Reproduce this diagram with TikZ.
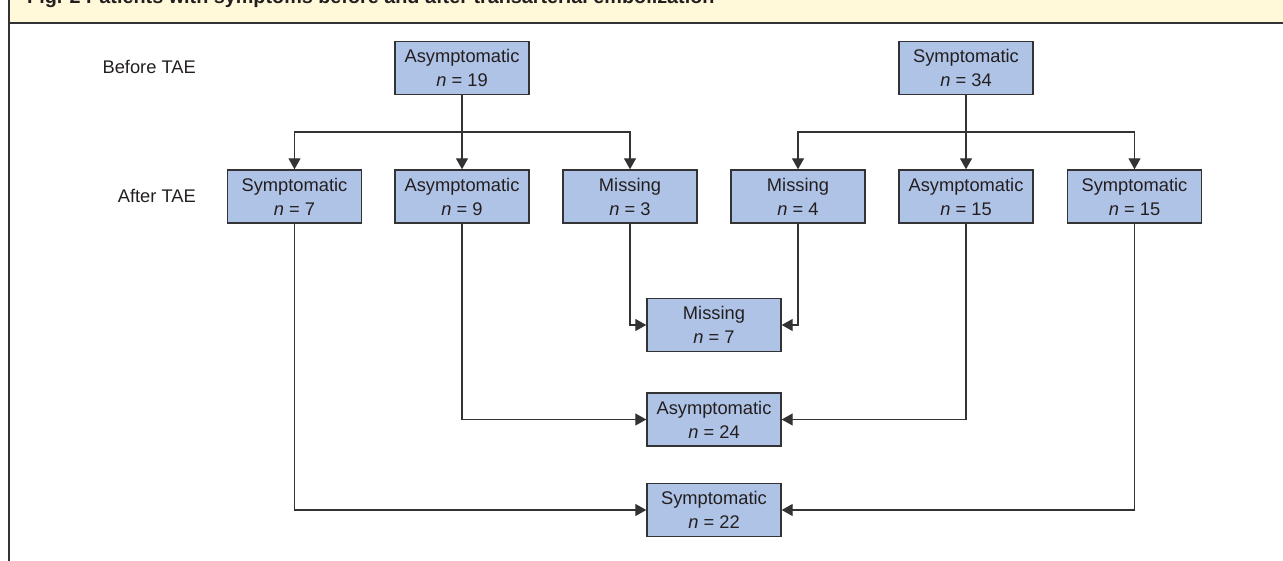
\documentclass[tikz,border=0pt]{standalone}
\usepackage{fontspec}
\setmainfont{Liberation Sans}
\usetikzlibrary{arrows.meta}

\definecolor{boxblue}{HTML}{AFC3E6}
\definecolor{inkgray}{HTML}{231F20}
\definecolor{linegray}{HTML}{333333}
\definecolor{headyellow}{HTML}{FFF9DA}

\begin{document}
\begin{tikzpicture}[x=1pt,y=-1pt,
  group/.style={draw=linegray,line width=1.4pt,fill=boxblue,text=inkgray,
    minimum width=134pt,minimum height=53pt,inner sep=0pt,align=center,
    font=\fontsize{18.3}{24}\selectfont},
  stage/.style={text=inkgray,anchor=east,inner sep=0pt,font=\fontsize{18.3}{22}\selectfont},
  link/.style={draw=linegray,line width=1.3pt},
  flow/.style={link,-{Triangle[length=11pt,width=12pt]}}]
\clip (0,0) rectangle (1283,561);
%\draw[step=100] (0,0) grid (1283,561);
\fill[headyellow] (8.5,0) rectangle (1283,23);
\draw[linegray,line width=2pt] (8.5,23) -- (1283,23);
\draw[linegray,line width=2pt] (8.5,0) -- (8.5,561);
\node[anchor=base west,inner sep=0pt,text=inkgray,font=\bfseries\fontsize{19.8}{24}\selectfont] (title) at (27,4)
  {Fig. 2 Patients with symptoms before and after transarterial embolization};

\node[stage] (before) at (196,67) {Before TAE};
\node[stage] (after) at (196,196) {After TAE};

% before TAE
\node[group] (asy19) at (462,68) {Asymptomatic\\\textit{n} = 19};
\node[group] (sym34) at (966,68) {Symptomatic\\\textit{n} = 34};

% after TAE
\node[group] (sym7) at (294.5,196.5) {Symptomatic\\\textit{n} = 7};
\node[group] (asy9) at (462,196.5) {Asymptomatic\\\textit{n} = 9};
\node[group] (mis3) at (630,196.5) {Missing\\\textit{n} = 3};
\node[group] (mis4) at (798,196.5) {Missing\\\textit{n} = 4};
\node[group] (asy15) at (966,196.5) {Asymptomatic\\\textit{n} = 15};
\node[group] (sym15) at (1134.5,196.5) {Symptomatic\\\textit{n} = 15};

% totals
\node[group] (mis7) at (714,325) {Missing\\\textit{n} = 7};
\node[group] (asy24) at (714,419.5) {Asymptomatic\\\textit{n} = 24};
\node[group] (sym22) at (714,510) {Symptomatic\\\textit{n} = 22};

\coordinate (splitA) at (462,132);
\coordinate (splitB) at (966,132);

\draw[link] (asy19) -- (splitA);
\draw[flow] (splitA) -- (asy9);
\draw[flow] (splitA) -| (sym7);
\draw[flow] (splitA) -| (mis3);

\draw[link] (sym34) -- (splitB);
\draw[flow] (splitB) -- (asy15);
\draw[flow] (splitB) -| (mis4);
\draw[flow] (splitB) -| (sym15);

\draw[flow] (mis3) |- (mis7);
\draw[flow] (mis4) |- (mis7);
\draw[flow] (asy9) |- (asy24);
\draw[flow] (asy15) |- (asy24);
\draw[flow] (sym7) |- (sym22);
\draw[flow] (sym15) |- (sym22);
\end{tikzpicture}
\end{document}
